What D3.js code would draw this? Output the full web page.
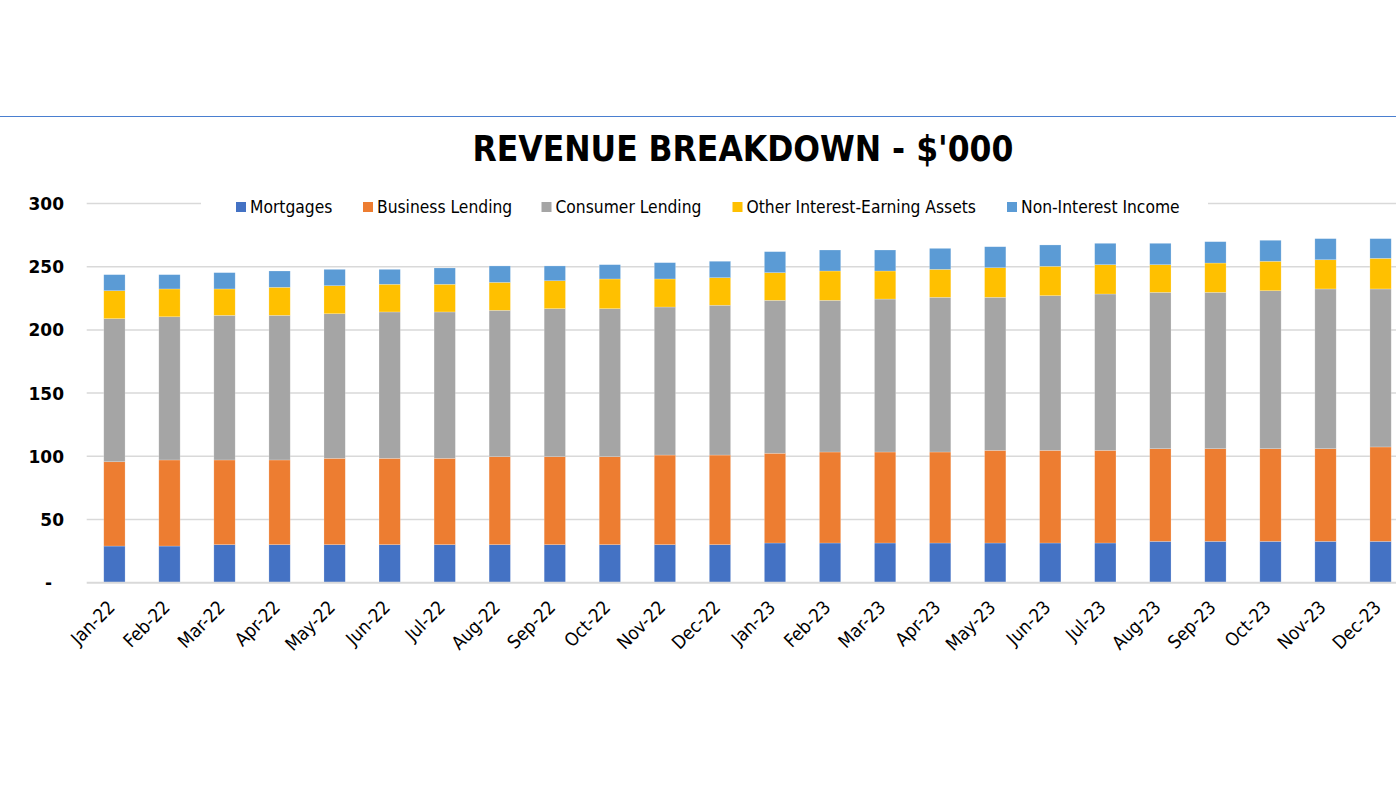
<!DOCTYPE html>
<html><head><meta charset="utf-8">
<script src="https://cdn.jsdelivr.net/npm/d3@7"></script>
<style>
html,body{margin:0;padding:0;background:#fff;}
svg{display:block;}
.cond{font-family:"DejaVu Sans Condensed","DejaVu Sans",sans-serif;font-stretch:condensed;}
</style></head>
<body>
<svg id="chart" width="1396" height="786"></svg>
<script>
const months = ["Jan-22","Feb-22","Mar-22","Apr-22","May-22","Jun-22","Jul-22","Aug-22","Sep-22","Oct-22","Nov-22","Dec-22",
"Jan-23","Feb-23","Mar-23","Apr-23","May-23","Jun-23","Jul-23","Aug-23","Sep-23","Oct-23","Nov-23","Dec-23"];
const seriesNames = ["Mortgages","Business Lending","Consumer Lending","Other Interest-Earning Assets","Non-Interest Income"];
const mortgages = [29.0,29.0,30.1,30.1,30.1,30.1,30.1,30.1,30.1,30.1,30.1,30.1,31.4,31.4,31.4,31.4,31.4,31.4,31.4,32.7,32.7,32.7,32.7,32.7];
const businessLending = [66.7,68.1,67.0,67.0,68.3,68.3,68.3,69.6,69.6,69.6,70.9,70.9,71.0,72.0,72.0,72.0,73.3,73.3,73.3,73.3,73.3,73.3,73.3,74.7];
const consumerLending = [113.2,113.3,114.4,114.4,114.4,115.8,115.8,115.8,117.1,117.1,117.1,118.5,121.0,120.0,121.0,122.4,121.1,122.4,123.7,123.7,123.7,125.0,126.4,125.0];
const otherAssets = [22.1,22.0,20.9,22.2,22.2,21.9,21.9,22.1,22.1,23.5,22.2,21.8,21.9,23.2,22.2,22.1,23.4,23.2,23.2,21.9,23.2,23.3,23.1,24.2];
const nonInterest = [12.7,11.3,12.9,12.9,12.9,11.8,12.9,13.0,11.7,11.3,12.9,13.0,16.6,16.6,16.6,16.6,16.6,16.9,16.9,16.9,16.9,16.6,16.7,15.6];
const yTicks = [0,50,100,150,200,250,300];
const colors = ["#4472C4","#ED7D31","#A5A5A5","#FFC000","#5B9BD5"];
const titleText = "REVENUE BREAKDOWN - $'000";

const seriesValues = [mortgages,businessLending,consumerLending,otherAssets,nonInterest];
const table = months.map((m,i)=>{const o={month:m};seriesNames.forEach((s,k)=>o[s]=seriesValues[k][i]);return o;});

const svg = d3.select("#chart");
const W = 1396;

// top rule
svg.append("line").attr("x1",0).attr("x2",W).attr("y1",116.5).attr("y2",116.5)
  .attr("stroke","#4A7FD0").attr("stroke-width",1);

// title
svg.append("text").attr("x",743).attr("y",161).attr("text-anchor","middle")
  .attr("font-family","DejaVu Sans Condensed, DejaVu Sans, sans-serif").attr("font-stretch","condensed")
  .attr("font-weight","bold").attr("font-size",35).attr("fill","#000").text(titleText);

const x = d3.scaleBand().domain(months).range([86.9,1408.1]).paddingInner(0.613).paddingOuter(0.3065);
const y = d3.scaleLinear().domain([0,300]).range([582.7,203.5]);

// gridlines
svg.append("g").selectAll("line").data(yTicks.filter(t=>t>0)).join("line")
  .attr("x1",86.7).attr("x2",W).attr("y1",d=>y(d)).attr("y2",d=>y(d))
  .attr("stroke","#D9D9D9").attr("stroke-width",1.5);

// y axis labels
const yAxis = d3.axisLeft(y).tickValues(yTicks).tickSize(0).tickPadding(0).tickFormat(d=>d===0?"-":d3.format("d")(d));
const gy = svg.append("g").attr("transform","translate(64,0)").call(yAxis);
gy.select(".domain").remove();
gy.selectAll("text").attr("font-family","DejaVu Sans, sans-serif").attr("font-weight","bold")
  .attr("font-size",17).attr("fill","#000").attr("dy","0.35em");
gy.selectAll(".tick").filter(d=>d===0).select("text").attr("dx",-12);

// stacked bars
const stack = d3.stack().keys(seriesNames)(table);
svg.append("g").selectAll("g").data(stack).join("g").attr("fill",(d,i)=>colors[i])
  .selectAll("rect").data(d=>d).join("rect")
  .attr("x",d=>x(d.data.month)).attr("width",x.bandwidth())
  .attr("y",d=>y(d[1])).attr("height",d=>y(d[0])-y(d[1]))
  .attr("stroke","rgba(255,255,255,0.35)").attr("stroke-width",0.6);

// baseline
svg.append("line").attr("x1",86.7).attr("x2",W).attr("y1",y(0)).attr("y2",y(0))
  .attr("stroke","#D9D9D9").attr("stroke-width",2);

// x axis labels
const xAxis = d3.axisBottom(x).tickSize(0).tickPadding(0);
const gx = svg.append("g").call(xAxis);
gx.select(".domain").remove();
gx.selectAll(".tick").attr("transform",d=>`translate(${x(d)+x.bandwidth()/2-3},604)`);
gx.selectAll("text").attr("class","cond").attr("font-size",18.5).attr("fill","#000")
  .attr("text-anchor","end").attr("dy","0.35em").attr("y",0).attr("transform","rotate(-45)");

// legend
svg.append("rect").attr("x",201).attr("y",194).attr("width",1007).attr("height",26).attr("fill","#fff");
const legendX = [236,363,541.5,732.5,1007];
const lg = svg.append("g").selectAll("g").data(seriesNames).join("g")
  .attr("transform",(d,i)=>`translate(${legendX[i]},207)`);
lg.append("rect").attr("x",0).attr("y",-5).attr("width",10).attr("height",10).attr("fill",(d,i)=>colors[i]);
lg.append("text").attr("x",14).attr("y",0).attr("dy","0.35em").attr("class","cond")
  .attr("font-size",17.3).attr("fill","#000").text(d=>d);
</script>
</body></html>
